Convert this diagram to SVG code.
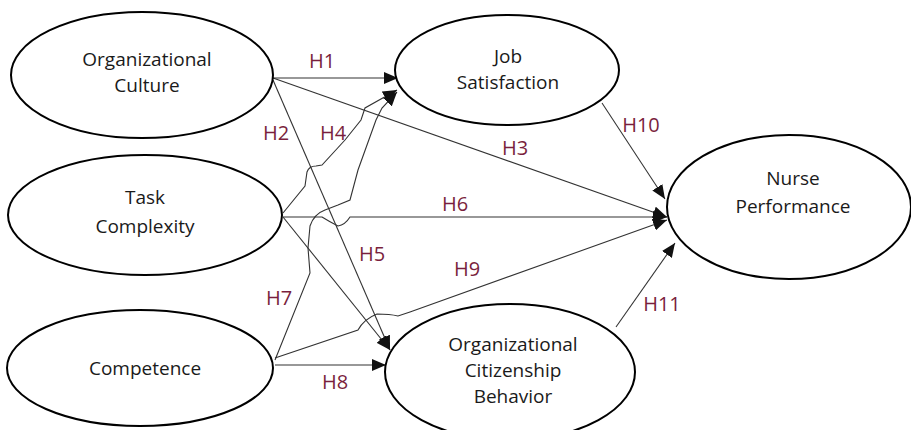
<svg xmlns="http://www.w3.org/2000/svg" width="911" height="430" viewBox="0 0 911 430">
<style>
.node{fill:#fff;stroke:#000;stroke-width:2}
.nt{font-family:"Open Sans","Liberation Sans",sans-serif;font-size:19px;fill:#1a1a1a;text-anchor:middle}
.lb{font-family:"Open Sans","Liberation Sans",sans-serif;font-size:20px;fill:#7a1f3d;text-anchor:middle}
.c{fill:none;stroke:#333;stroke-width:1.1}
</style>
<defs>
<marker id="ah" markerUnits="userSpaceOnUse" markerWidth="16" markerHeight="12" refX="14" refY="6" orient="auto">
<path d="M0,0 L14,6 L0,12 Z" fill="#111"/>
</marker>
</defs>
<rect width="911" height="430" fill="#fff"/>
<g id="connectors">
<path class="c" d="M273,78 L398,78" marker-end="url(#ah)"/>
<path class="c" d="M273,80 L390,350" marker-end="url(#ah)"/>
<path class="c" d="M273,78 L667,217" marker-end="url(#ah)"/>
<path class="c" d="M283,213 L305,186 L307,172 Q309,166 316,166 L322,165 L345,140 L361,120 L365,108 L397,90" marker-end="url(#ah)"/>
<path class="c" d="M283,217 L390,350" marker-end="url(#ah)"/>
<path class="c" d="M283,217 L322,217 Q330,222 338,226 Q345,225 350,217 L667,217" marker-end="url(#ah)"/>
<path class="c" d="M275,360 L310,273 L308,248 L310,226 Q314,214 325,210 L338,205 L350,200 L358,170 L376,120 L382,108 L397,92" marker-end="url(#ah)"/>
<path class="c" d="M275,365 L386,365" marker-end="url(#ah)"/>
<path class="c" d="M275,358 L358,330 Q364,319 377,314 Q390,314 398,316 L410,312 L667,220" marker-end="url(#ah)"/>
<path class="c" d="M602,103 L665,199" marker-end="url(#ah)"/>
<path class="c" d="M616,327 L675,243" marker-end="url(#ah)"/>
</g>
<g id="n-oc">
<ellipse class="node" cx="142" cy="75" rx="131" ry="63"/>
<text class="nt" x="147" y="66">Organizational</text>
<text class="nt" x="147" y="92">Culture</text>
</g>
<g id="n-tc">
<ellipse class="node" cx="145" cy="215" rx="137" ry="60"/>
<text class="nt" x="145" y="204">Task</text>
<text class="nt" x="145" y="233">Complexity</text>
</g>
<g id="n-comp">
<ellipse class="node" cx="140" cy="368" rx="133" ry="58"/>
<text class="nt" x="145" y="375">Competence</text>
</g>
<g id="n-js">
<ellipse class="node" cx="507" cy="70" rx="112" ry="55"/>
<text class="nt" x="508" y="63">Job</text>
<text class="nt" x="508" y="89">Satisfaction</text>
</g>
<g id="n-np">
<ellipse class="node" cx="789" cy="207" rx="122" ry="72"/>
<text class="nt" x="793" y="185">Nurse</text>
<text class="nt" x="793" y="213">Performance</text>
</g>
<g id="n-ocb">
<ellipse class="node" cx="510" cy="372" rx="125" ry="68"/>
<text class="nt" x="513" y="351">Organizational</text>
<text class="nt" x="513" y="377">Citizenship</text>
<text class="nt" x="513" y="403">Behavior</text>
</g>
<g id="labels">
<text class="lb" x="322" y="68">H1</text>
<text class="lb" x="276" y="140">H2</text>
<text class="lb" x="333" y="140">H4</text>
<text class="lb" x="515" y="155">H3</text>
<text class="lb" x="641" y="132">H10</text>
<text class="lb" x="455" y="211">H6</text>
<text class="lb" x="372" y="261">H5</text>
<text class="lb" x="467" y="276">H9</text>
<text class="lb" x="279" y="305">H7</text>
<text class="lb" x="662" y="311">H11</text>
<text class="lb" x="335" y="389">H8</text>
</g>
</svg>
